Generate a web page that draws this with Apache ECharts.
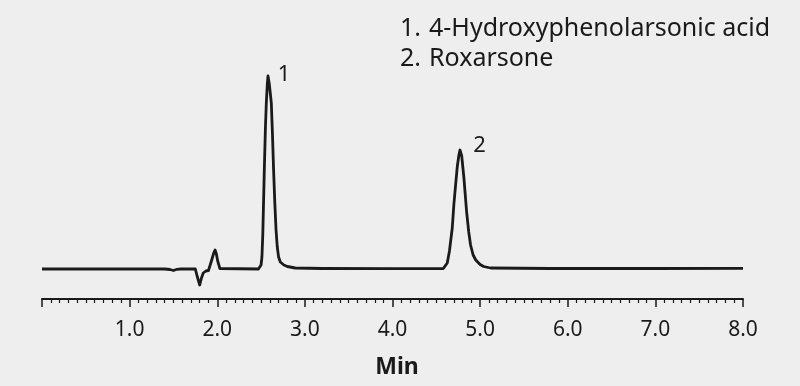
<!DOCTYPE html>
<html>
<head>
<meta charset="utf-8">
<script src="https://cdn.jsdelivr.net/npm/echarts@6/dist/echarts.min.js"></script>
<style>
html,body{margin:0;padding:0;background:#eeeeee;}
#c{width:800px;height:386px;}
</style>
</head>
<body>
<div id="c"></div>
<script>
// Retention time (min)
const times = [0.00,0.50,1.00,1.40,1.46,1.50,1.54,1.58,1.75,1.77,1.80,1.82,1.84,1.87,1.90,1.93,1.96,1.975,1.99,2.005,2.03,2.05,
  2.47,2.49,2.50,2.51,2.52,2.537,2.55,2.56,2.572,2.579,2.586,2.594,2.605,2.617,2.63,2.643,2.657,2.671,2.685,2.70,2.72,2.74,2.76,2.80,2.89,3.2,4.0,
  4.58,4.60,4.625,4.65,4.682,4.70,4.72,4.74,4.758,4.77,4.777,4.79,4.815,4.846,4.87,4.891,4.92,4.95,5.00,5.04,5.12,5.8,7.0,8.0];
// Detector signal (arbitrary units)
const signal = [0,0,0,0,-0.5,-1.5,-0.3,0,0,-7,-16,-9,-4,-2,-1.5,7,16,19,15,8,0.5,0,
  0,0.5,4,12,35,99,142,166,186,193,191,185,176,166,135,99,66,39,22,12,7,5,4,2.5,1,0.5,0.3,
  0.5,2,6,18,41,64,84,103,114,119,120,113,91,57,37,24,14,9,4.5,2.5,1,0.5,0.5,0.7];
const peakLabels = ['1','2'];
const peakCoords = [[2.579,193],[4.777,120]];
const legendNums = ['1.','2.'];
const legendNames = ['4-Hydroxyphenolarsonic acid','Roxarsone'];
const xTicks = {min:0,max:8,interval:1};

const font = 'Noto Sans';
const chart = echarts.init(document.getElementById('c'));
const data = times.map((t,i)=>[t,signal[i]]);
const graphics = [];
legendNums.forEach((n,i)=>{
  graphics.push({type:'text',left:400,top:16+i*30,style:{text:n,font:'25px "'+font+'"',fill:'#1a1a1a'}});
  graphics.push({type:'text',left:429,top:16+i*30,style:{text:legendNames[i],font:'25px "'+font+'"',fill:'#1a1a1a'}});
});
chart.setOption({
  backgroundColor:'#eeeeee',
  animation:false,
  grid:{left:42,right:57,top:69,bottom:87},
  xAxis:{type:'value',min:xTicks.min,max:xTicks.max,interval:xTicks.interval,
    name:'Min',nameLocation:'middle',nameGap:57,
    nameTextStyle:{fontFamily:font,fontWeight:'bold',fontSize:23,color:'#1a1a1a',padding:[0,0,0,9]},
    axisLine:{onZero:false,lineStyle:{color:'#1a1a1a',width:2}},
    axisTick:{length:8,lineStyle:{color:'#1a1a1a',width:1.5}},
    minorTick:{show:true,splitNumber:10,length:4,lineStyle:{color:'#1a1a1a',width:1.2}},
    splitLine:{show:false},
    axisLabel:{fontFamily:font,fontSize:21,color:'#1a1a1a',margin:21,
      formatter:v=> v===0 ? '' : v.toFixed(1)}
  },
  yAxis:{type:'value',min:-30,max:200,show:false,splitLine:{show:false}},
  series:[{type:'line',data:data,symbol:'none',smooth:false,
    lineStyle:{color:'#1a1a1a',width:2.8,join:'round'},
    markPoint:{symbol:'circle',symbolSize:0,
      data:peakCoords.map((c,i)=>({coord:c,value:peakLabels[i],
        label:{show:true,formatter:peakLabels[i],fontFamily:font,fontSize:22,color:'#1a1a1a',
          offset:i===0?[16,-1]:[19,-3]}}))}
  }],
  graphic:graphics
});
</script>
</body>
</html>
